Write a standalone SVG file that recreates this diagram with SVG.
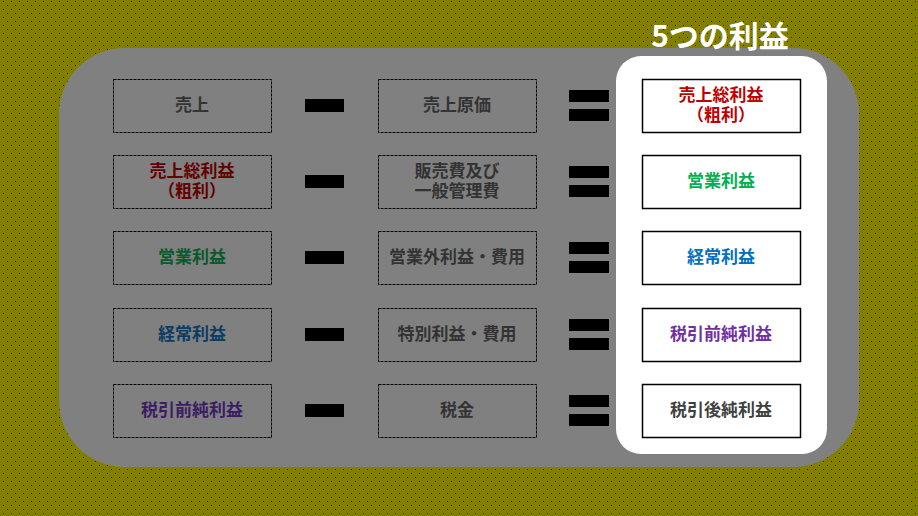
<svg xmlns="http://www.w3.org/2000/svg" width="918" height="516" viewBox="0 0 918 516">
<defs>
<pattern id="dots" width="8" height="8" patternUnits="userSpaceOnUse">
<rect width="8" height="8" fill="#808000"/>
<rect x="3" y="1" width="1" height="1" fill="#800000"/>
<rect x="7" y="5" width="1" height="1" fill="#800000"/>
</pattern>
<style>
.t{font-family:"Noto Sans CJK JP","Noto Sans",sans-serif;font-weight:bold;font-size:17px;text-anchor:middle}
.dim{fill:#808080;stroke:#000;stroke-width:1;stroke-dasharray:3 1}
.solid{fill:#fff;stroke:#000;stroke-width:1.5}
.bar{fill:#000}
</style>
</defs>
<rect width="918" height="516" fill="url(#dots)"/>
<rect x="59" y="48" width="800" height="419" rx="66" ry="66" fill="#808080"/>
<rect x="616" y="56" width="211" height="398" rx="25" ry="25" fill="#fff"/>
<text x="720" y="47" class="t" style="font-size:30px" fill="#fff">5つの利益</text>

<g id="connectors">
<rect class="bar" x="305" y="99" width="39" height="13"/>
<rect class="bar" x="305" y="175" width="39" height="13"/>
<rect class="bar" x="305" y="251" width="39" height="13"/>
<rect class="bar" x="305" y="328" width="39" height="13"/>
<rect class="bar" x="305" y="404" width="39" height="13"/>
<rect class="bar" x="569" y="90" width="40" height="12"/>
<rect class="bar" x="569" y="109" width="40" height="12"/>
<rect class="bar" x="569" y="166" width="40" height="12"/>
<rect class="bar" x="569" y="185" width="40" height="12"/>
<rect class="bar" x="569" y="242" width="40" height="12"/>
<rect class="bar" x="569" y="261" width="40" height="12"/>
<rect class="bar" x="569" y="319" width="40" height="12"/>
<rect class="bar" x="569" y="338" width="40" height="12"/>
<rect class="bar" x="569" y="395" width="40" height="12"/>
<rect class="bar" x="569" y="414" width="40" height="12"/>
</g>

<g id="l1"><rect class="dim" x="113.5" y="79.5" width="158" height="53"/><text class="t" x="192" y="111" fill="#333">売上</text></g>
<g id="l2"><rect class="dim" x="113.5" y="155.5" width="158" height="53"/><text class="t" x="192" y="177" fill="#640000">売上総利益</text><text class="t" x="192" y="197" fill="#640000">（粗利）</text></g>
<g id="l3"><rect class="dim" x="113.5" y="231.5" width="158" height="53"/><text class="t" x="192" y="263" fill="#0a5a2c">営業利益</text></g>
<g id="l4"><rect class="dim" x="113.5" y="308.5" width="158" height="53"/><text class="t" x="192" y="340" fill="#0a3c64">経常利益</text></g>
<g id="l5"><rect class="dim" x="113.5" y="384.5" width="158" height="53"/><text class="t" x="192" y="416" fill="#3c1c64">税引前純利益</text></g>

<g id="m1"><rect class="dim" x="378.5" y="79.5" width="158" height="53"/><text class="t" x="457" y="111" fill="#333">売上原価</text></g>
<g id="m2"><rect class="dim" x="378.5" y="155.5" width="158" height="53"/><text class="t" x="457" y="177" fill="#333">販売費及び</text><text class="t" x="457" y="197" fill="#333">一般管理費</text></g>
<g id="m3"><rect class="dim" x="378.5" y="231.5" width="158" height="53"/><text class="t" x="457" y="263" fill="#333">営業外利益・費用</text></g>
<g id="m4"><rect class="dim" x="378.5" y="308.5" width="158" height="53"/><text class="t" x="457" y="340" fill="#333">特別利益・費用</text></g>
<g id="m5"><rect class="dim" x="378.5" y="384.5" width="158" height="53"/><text class="t" x="457" y="416" fill="#333">税金</text></g>

<g id="r1"><rect class="solid" x="642.5" y="79.5" width="158" height="53"/><text class="t" x="721" y="101" fill="#c00000">売上総利益</text><text class="t" x="721" y="121" fill="#c00000">（粗利）</text></g>
<g id="r2"><rect class="solid" x="642.5" y="155.5" width="158" height="53"/><text class="t" x="721" y="187" fill="#00b050">営業利益</text></g>
<g id="r3"><rect class="solid" x="642.5" y="231.5" width="158" height="53"/><text class="t" x="721" y="263" fill="#0070c0">経常利益</text></g>
<g id="r4"><rect class="solid" x="642.5" y="308.5" width="158" height="53"/><text class="t" x="721" y="340" fill="#7030a0">税引前純利益</text></g>
<g id="r5"><rect class="solid" x="642.5" y="384.5" width="158" height="53"/><text class="t" x="721" y="416" fill="#404040">税引後純利益</text></g>
</svg>
